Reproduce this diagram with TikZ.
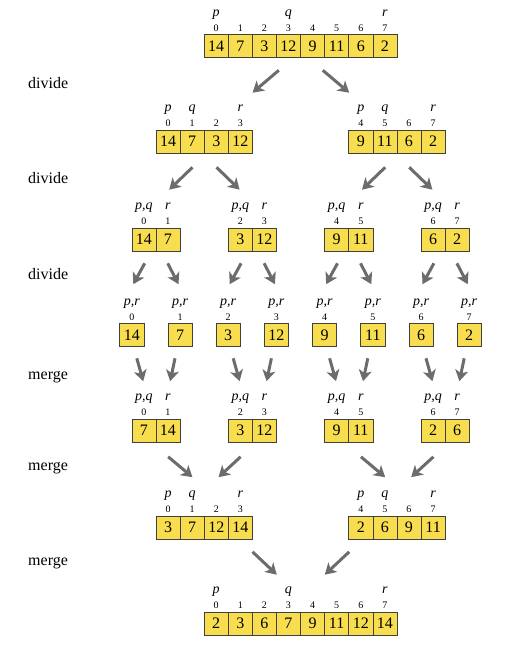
\documentclass[tikz,border=0pt]{standalone}
\usepackage{fontspec}
\setmainfont{Liberation Serif}
\usetikzlibrary{arrows.meta,positioning}

\definecolor{celly}{RGB}{248,222,78}
\definecolor{arrowg}{RGB}{108,108,108}

\tikzset{
  cell/.style={draw=black!75, line width=0.6pt, fill=celly, minimum width=24.1pt, minimum height=23pt, inner sep=0pt, font=\fontsize{16}{16}\selectfont},
  idx/.style={anchor=base, inner sep=0pt, font=\fontsize{10}{10}\selectfont},
  ptr/.style={anchor=base, inner sep=0pt, font=\fontsize{14}{14}\selectfont\itshape},
  phase/.style={anchor=west, inner sep=0pt, font=\fontsize{16}{16}\selectfont},
  fat/.style={arrowg, line width=3pt, -{Stealth[length=11pt,width=13pt,inset=3pt]}}
}

% array: name, left x, mid y, first index, values, pointers
\newcommand{\arr}[6]{%
  \foreach \v [count=\i from 0] in {#5} {
    \pgfmathtruncatemacro{\k}{#4+\i}
    \node[cell] (#1-\i) at ({#2+(\i+0.5)*24.1},#3) {\v};
    \node[idx] (#1-\i-ix) at ([yshift=3pt]#1-\i.north) {\k};
  }
  \foreach \j/\s in {#6}
    \node[ptr] (#1-\j-pt) at ([yshift=18pt]#1-\j.north) {\s};
}

\begin{document}
\begin{tikzpicture}[x=1pt,y=-1pt]
  \useasboundingbox (0,0) rectangle (523,653);

  \node[phase] (dv1) at (28,83) {divide};
  \node[phase] (dv2) at (28,178) {divide};
  \node[phase] (dv3) at (28,274) {divide};
  \node[phase] (mg1) at (28,377) {merge};
  \node[phase] (mg2) at (28,468) {merge};
  \node[phase] (mg3) at (28,563) {merge};

  % divide
  \arr{top}{204.1}{46}{0}{14,7,3,12,9,11,6,2}{0/p,3/q,7/r}
  \arr{lft}{156.0}{141.5}{0}{14,7,3,12}{0/p,1/q,3/r}
  \arr{rgt}{348.7}{141.5}{4}{9,11,6,2}{0/p,1/q,3/r}
  \arr{q1}{131.8}{239.5}{0}{14,7}{0/{p,q},1/r}
  \arr{q2}{228.2}{239.5}{2}{3,12}{0/{p,q},1/r}
  \arr{q3}{324.6}{239.5}{4}{9,11}{0/{p,q},1/r}
  \arr{q4}{421.0}{239.5}{6}{6,2}{0/{p,q},1/r}
  \foreach \w [count=\n from 0] in {14,7,3,12,9,11,6,2}
    {\arr{one\n}{119.75+48.2*\n}{335}{\n}{\w}{0/{p,r}}}

  % merge
  \arr{mq1}{131.8}{430.5}{0}{7,14}{0/{p,q},1/r}
  \arr{mq2}{228.2}{430.5}{2}{3,12}{0/{p,q},1/r}
  \arr{mq3}{324.6}{430.5}{4}{9,11}{0/{p,q},1/r}
  \arr{mq4}{421.0}{430.5}{6}{2,6}{0/{p,q},1/r}
  \arr{mlft}{156.0}{527.5}{0}{3,7,12,14}{0/p,1/q,3/r}
  \arr{mrgt}{348.7}{527.5}{4}{2,6,9,11}{0/p,1/q,3/r}
  \arr{out}{204.1}{623.5}{0}{2,3,6,7,9,11,12,14}{0/p,3/q,7/r}

  % arrows
  \draw[fat] ([shift={(-22,12.5)}]top-3.south east) -- ([shift={(48,-37)}]lft-1.north east);
  \draw[fat] ([shift={(22,12.5)}]top-3.south east) -- ([shift={(-48,-37)}]rgt-1.north east);
  \draw[fat] ([shift={(-12,14)}]lft-1.south east) -- ([shift={(13,-38)}]q1-0.north east);
  \draw[fat] ([shift={(12,14)}]lft-1.south east) -- ([shift={(-13,-38)}]q2-0.north east);
  \draw[fat] ([shift={(-12,14)}]rgt-1.south east) -- ([shift={(13,-38)}]q3-0.north east);
  \draw[fat] ([shift={(12,14)}]rgt-1.south east) -- ([shift={(-13,-38)}]q4-0.north east);
  \foreach \k [evaluate=\k as \a using int(2*\k-2), evaluate=\k as \b using int(2*\k-1)] in {1,...,4} {
    \draw[fat] ([shift={(-11.5,12)}]q\k-0.south east) -- ([shift={(1.5,-39)}]one\a-0.north);
    \draw[fat] ([shift={(11.5,12)}]q\k-0.south east) -- ([shift={(-1.5,-39)}]one\b-0.north);
    \draw[fat] ([shift={(5,11.5)}]one\a-0.south) -- ([shift={(-13,-37.5)}]mq\k-0.north east);
    \draw[fat] ([shift={(-5,11.5)}]one\b-0.south) -- ([shift={(14,-37.5)}]mq\k-0.north east);
  }
  \draw[fat] ([shift={(12,14.5)}]mq1-0.south east) -- ([shift={(-12,-38.5)}]mlft-1.north east);
  \draw[fat] ([shift={(-12,14.5)}]mq2-0.south east) -- ([shift={(14,-38.5)}]mlft-1.north east);
  \draw[fat] ([shift={(12,14.5)}]mq3-0.south east) -- ([shift={(-12,-38.5)}]mrgt-1.north east);
  \draw[fat] ([shift={(-12,14.5)}]mq4-0.south east) -- ([shift={(14,-38.5)}]mrgt-1.north east);
  \draw[fat] ([shift={(48,12.5)}]mlft-1.south east) -- ([shift={(-24,-37)}]out-3.north east);
  \draw[fat] ([shift={(-48,12.5)}]mrgt-1.south east) -- ([shift={(24,-37)}]out-3.north east);
\end{tikzpicture}
\end{document}
